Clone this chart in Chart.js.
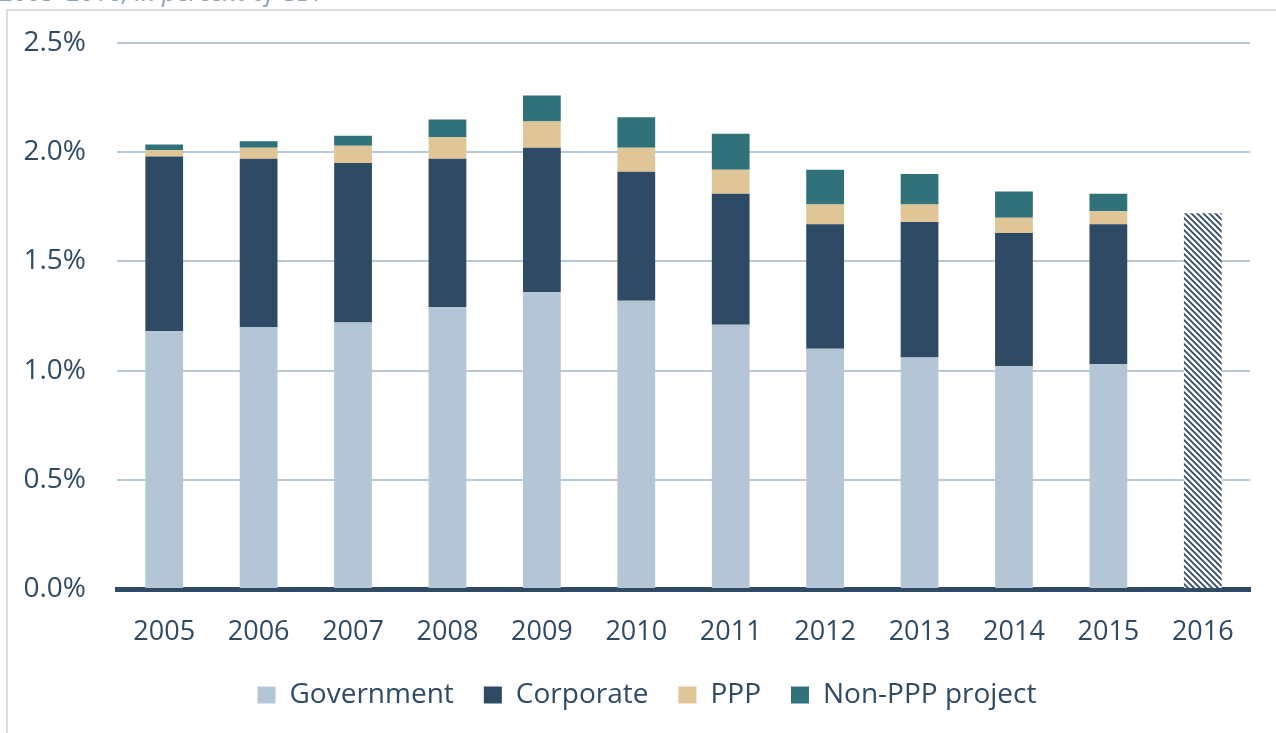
<!DOCTYPE html>
<html>
<head>
<meta charset="utf-8">
<script src="https://cdn.jsdelivr.net/npm/chart.js@4"></script>
<style>
    html, body { margin: 0; padding: 0; background: #fff; overflow: hidden; }
    #wrap { position: relative; width: 1276px; height: 733px; }
    #subtitle {
        position: absolute; left: 0; top: -21px;
        font-family: "Open Sans", sans-serif; font-style: italic;
        font-size: 25px; line-height: 25px; color: #8ea3b6; white-space: nowrap;
    }
    #frame {
        position: absolute; left: 6px; top: 9px; right: -2px; bottom: -2px;
        border-left: 2px solid #dcdcdc; border-top: 2px solid #dcdcdc;
    }
    canvas { position: absolute; left: 0; top: 0; }
</style>
</head>
<body>
<div id="wrap">
    <div id="subtitle">2005–2016, in percent of GDP</div>
    <div id="frame"></div>
    <canvas id="chart" width="1276" height="733"></canvas>
</div>
<script>
// data (percent of GDP)
const years = ["2005", "2006", "2007", "2008", "2009", "2010", "2011", "2012", "2013", "2014", "2015", "2016"];
const government = [1.18, 1.20, 1.22, 1.29, 1.36, 1.32, 1.21, 1.10, 1.06, 1.02, 1.03, null];
const corporate = [0.80, 0.77, 0.73, 0.68, 0.66, 0.59, 0.60, 0.57, 0.62, 0.61, 0.64, null];
const ppp = [0.03, 0.05, 0.08, 0.10, 0.12, 0.11, 0.11, 0.09, 0.08, 0.07, 0.06, null];
const nonPppProject = [0.025, 0.03, 0.045, 0.08, 0.12, 0.14, 0.165, 0.16, 0.14, 0.12, 0.08, null];
const estimate2016 = [null, null, null, null, null, null, null, null, null, null, null, 1.72];
const yTicks = [0, 0.5, 1.0, 1.5, 2.0, 2.5];

const textColor = "#2f4a63";
const fontFamily = "'Open Sans', sans-serif";

// diagonal hatch used for the 2016 bar
function makeHatch() {
    const size = 6;
    const c = document.createElement("canvas");
    c.width = size;
    c.height = size;
    const ctx = c.getContext("2d");
    ctx.fillStyle = "#ffffff";
    ctx.fillRect(0, 0, size, size);
    ctx.strokeStyle = "#2e4a64";
    ctx.lineWidth = 1.8;
    ctx.beginPath();
    ctx.moveTo(-1, -1); ctx.lineTo(size + 1, size + 1);
    ctx.moveTo(-1, size - 1); ctx.lineTo(1, size + 1);
    ctx.moveTo(size - 1, -1); ctx.lineTo(size + 1, 1);
    ctx.stroke();
    return c.getContext("2d").createPattern(c, "repeat");
}

// keep the legend box short (its padding is only wanted between items)
// and nudge it right like in the reference
const legendTweak = {
    id: "legendTweak",
    beforeLayout(chart) {
        const lg = chart.legend;
        if (lg && !lg._tweaked) {
            const origFit = lg.fit.bind(lg);
            lg.fit = function () {
                origFit();
                this.height = 82;
            };
            lg._tweaked = true;
        }
    },
    afterLayout(chart) {
        chart.legend.left += 22;
        chart.legend.right += 22;
    },
};

document.addEventListener("DOMContentLoaded", function () {
    const canvas = document.getElementById("chart");

    const barOpts = { barPercentage: 0.4, categoryPercentage: 1.0, borderWidth: 0 };

    new Chart(canvas, {
        type: "bar",
        data: {
            labels: years,
            datasets: [
                { label: "Government", data: government, backgroundColor: "#b4c6d5", ...barOpts },
                { label: "Corporate", data: corporate, backgroundColor: "#2e4a64", ...barOpts },
                { label: "PPP", data: ppp, backgroundColor: "#e0c596", ...barOpts },
                { label: "Non-PPP project", data: nonPppProject, backgroundColor: "#31727a", ...barOpts },
                { label: "2016", data: estimate2016, backgroundColor: makeHatch(), ...barOpts },
            ],
        },
        plugins: [legendTweak],
        options: {
            responsive: false,
            animation: false,
            layout: { padding: { top: 43, right: 26, left: 0, bottom: 0 } },
            scales: {
                x: {
                    stacked: true,
                    afterFit: (scale) => { scale.height = 62; },
                    grid: { display: false, drawTicks: false },
                    border: { display: true, color: "#2e4a64", width: 5 },
                    ticks: {
                        color: textColor,
                        padding: 27,
                        font: { family: fontFamily, size: 27 },
                    },
                },
                y: {
                    stacked: true,
                    min: 0,
                    max: 2.5,
                    afterFit: (scale) => {
                        scale.width = 117;
                        scale.paddingTop = 0;
                    },
                    afterBuildTicks: (scale) => {
                        scale.ticks = yTicks.map((v) => ({ value: v }));
                    },
                    grid: { color: "#b9c9d7", lineWidth: 2, drawTicks: false },
                    border: { display: false },
                    ticks: {
                        color: textColor,
                        padding: 31,
                        font: { family: fontFamily, size: 28 },
                        callback: (v) => v.toFixed(1) + "%",
                    },
                },
            },
            plugins: {
                legend: {
                    position: "bottom",
                    labels: {
                        color: textColor,
                        boxWidth: 18,
                        boxHeight: 17,
                        padding: 30,
                        font: { family: fontFamily, size: 28 },
                        filter: (item) => item.text !== "2016",
                    },
                },
                tooltip: { enabled: false },
            },
        },
    });
});
</script>
</body>
</html>
